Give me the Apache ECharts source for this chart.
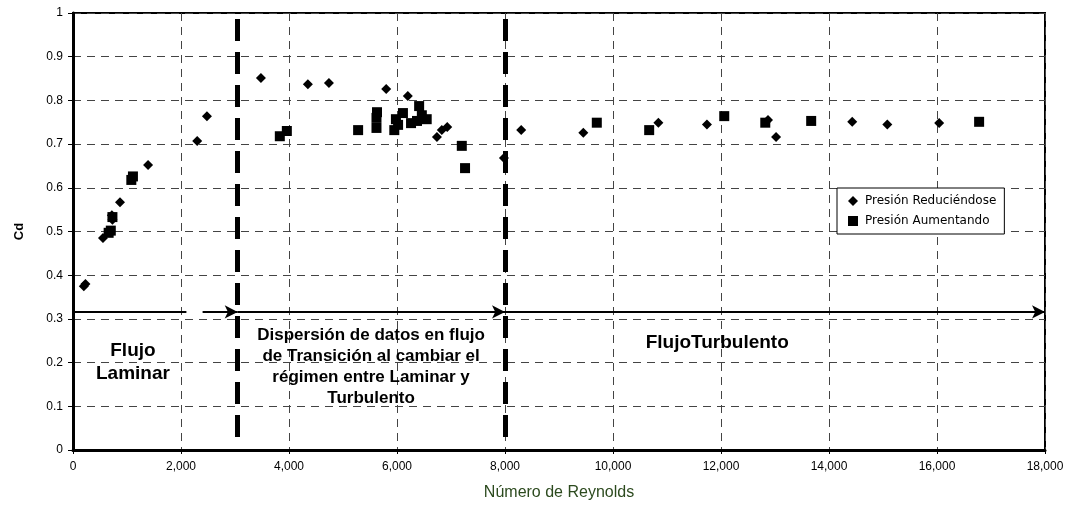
<!DOCTYPE html>
<html>
<head>
<meta charset="utf-8">
<script src="https://cdn.jsdelivr.net/npm/echarts@6/dist/echarts.min.js"></script>
<style>
  html, body { margin: 0; padding: 0; background: #fff; }
  #main { width: 1070px; height: 506px; }
</style>
</head>
<body>
<div id="main"></div>
<script>
// Presión Reduciéndose (rombos)
var reducingRe = [200, 230, 555, 720, 730, 870, 1390, 2300, 2480, 3480, 4350, 4740, 5800, 6200,
  6740, 6830, 6930, 7980, 8300, 9450, 10840, 11740, 12870, 13020, 14430, 15080, 16040];
var reducingCd = [0.375, 0.380, 0.485, 0.537, 0.527, 0.567, 0.652, 0.707, 0.764, 0.851, 0.837, 0.840, 0.826, 0.810,
  0.716, 0.732, 0.739, 0.668, 0.732, 0.726, 0.749, 0.745, 0.755, 0.716, 0.751, 0.745, 0.748];

// Presión Aumentando (cuadrados)
var increasingRe = [660, 700, 730, 1080, 1110, 3830, 3960, 5280, 5630, 5620, 5620, 5950, 5980, 6020,
  6110, 6260, 6370, 6410, 6460, 6550, 7200, 7260, 9700, 10670, 12060, 12820, 13670, 16780];
var increasingCd = [0.497, 0.502, 0.533, 0.618, 0.626, 0.718, 0.730, 0.732, 0.773, 0.760, 0.737, 0.732, 0.757, 0.744,
  0.771, 0.748, 0.753, 0.787, 0.766, 0.757, 0.696, 0.645, 0.749, 0.732, 0.764, 0.749, 0.753, 0.751];

// limites de regimen y flecha
var laminarLimit = 3050;
var turbulentLimit = 8000;
var arrowCd = 0.316;
var reMax = 18000;

var regionLabels = [
  { re: 1110, cd: 0.2, text: 'Flujo\nLaminar', size: 19, lh: 23 },
  { re: 5520, cd: 0.19, text: 'Dispersión de datos en flujo\nde Transición al cambiar el\nrégimen entre Laminar y\nTurbulento', size: 17, lh: 21 },
  { re: 11930, cd: 0.245, text: 'FlujoTurbulento', size: 19, lh: 23 }
];

function pairs(xs, ys) {
  var out = [];
  for (var i = 0; i < xs.length; i++) out.push([xs[i], ys[i]]);
  return out;
}

var chart = echarts.init(document.getElementById('main'));
var font = 'Arial, "Liberation Sans", sans-serif';

var option = {
  animation: false,
  backgroundColor: '#fff',
  grid: { left: 73, right: 25, top: 13, bottom: 56, show: true, borderColor: '#000', borderWidth: 2 },
  legend: {
    left: 837, top: 188, orient: 'vertical',
    padding: [7, 8, 7, 11], itemGap: 8, itemWidth: 10, itemHeight: 10,
    borderColor: '#000', borderWidth: 1, backgroundColor: '#fff',
    textStyle: { fontFamily: '"DejaVu Sans", Verdana, sans-serif', fontSize: 12, color: '#000', padding: [0, 0, 0, 2] },
    data: [{ name: 'Presión Reduciéndose', icon: 'diamond' }, { name: 'Presión Aumentando', icon: 'rect' }]
  },
  xAxis: {
    type: 'value', min: 0, max: reMax, interval: 2000,
    name: 'Número de Reynolds', nameLocation: 'middle', nameGap: 35,
    nameTextStyle: { fontFamily: font, fontSize: 16, color: '#2c4a1e' },
    axisLine: { onZero: false, lineStyle: { color: '#000', width: 3 } },
    axisTick: { show: true, length: 4, lineStyle: { color: '#000' } },
    axisLabel: {
      margin: 11, fontFamily: font, fontSize: 12, color: '#000',
      formatter: function (v) { return v.toLocaleString('en-US'); }
    },
    splitLine: { show: true, lineStyle: { color: '#444', width: 1, type: [8, 6] } }
  },
  yAxis: {
    type: 'value', min: 0, max: 1, interval: 0.1,
    name: 'Cd', nameLocation: 'middle', nameGap: 47,
    nameTextStyle: { fontFamily: font, fontSize: 13, fontWeight: 'bold', color: '#000' },
    axisLine: { show: true, onZero: false, lineStyle: { color: '#000', width: 3 } },
    axisTick: { show: true, length: 5, lineStyle: { color: '#000' } },
    axisLabel: {
      margin: 10, fontFamily: font, fontSize: 12, color: '#000',
      formatter: function (v) { return String(Math.round(v * 10) / 10); }
    },
    splitLine: { show: true, lineStyle: { color: '#444', width: 1, type: [8, 6] } }
  },
  series: [
    {
      name: 'Regimen', type: 'line', data: [], silent: true,
      markLine: {
        silent: true, animation: false,
        label: { show: false },
        data: [
          [{ coord: [laminarLimit, 0.03], symbol: 'none', lineStyle: { width: 5, type: [22, 11] } }, { coord: [laminarLimit, 0.99], symbol: 'none' }],
          [{ coord: [turbulentLimit, 0.03], symbol: 'none', lineStyle: { width: 5, type: [22, 11] } }, { coord: [turbulentLimit, 0.99], symbol: 'none' }],
          [{ coord: [0, arrowCd], symbol: 'none' }, { coord: [2100, arrowCd], symbol: 'none' }],
          [{ coord: [2400, arrowCd], symbol: 'none' }, { coord: [laminarLimit, arrowCd], symbol: 'arrow' }],
          [{ coord: [laminarLimit, arrowCd], symbol: 'none' }, { coord: [turbulentLimit, arrowCd], symbol: 'arrow' }],
          [{ coord: [turbulentLimit, arrowCd], symbol: 'none' }, { coord: [reMax, arrowCd], symbol: 'arrow' }]
        ],
        symbolSize: [10, 13],
        lineStyle: { color: '#000', width: 2, type: 'solid' }
      }
    },
    {
      name: 'Presión Reduciéndose', type: 'scatter', symbol: 'diamond', symbolSize: [10, 10],
      itemStyle: { color: '#000', opacity: 1 }, data: pairs(reducingRe, reducingCd), z: 5
    },
    {
      name: 'Presión Aumentando', type: 'scatter', symbol: 'rect', symbolSize: [10, 10],
      itemStyle: { color: '#000', opacity: 1 }, data: pairs(increasingRe, increasingCd), z: 5
    }
  ]
};

chart.setOption(option);

var graphics = regionLabels.map(function (r) {
  var p = chart.convertToPixel({ gridIndex: 0 }, [r.re, r.cd]);
  return {
    type: 'text', x: p[0], y: p[1], z: 10,
    style: {
      text: r.text, fill: '#000', font: 'bold ' + r.size + 'px ' + font,
      align: 'center', verticalAlign: 'middle', lineHeight: r.lh
    }
  };
});
chart.setOption({ graphic: graphics });
</script>
</body>
</html>
